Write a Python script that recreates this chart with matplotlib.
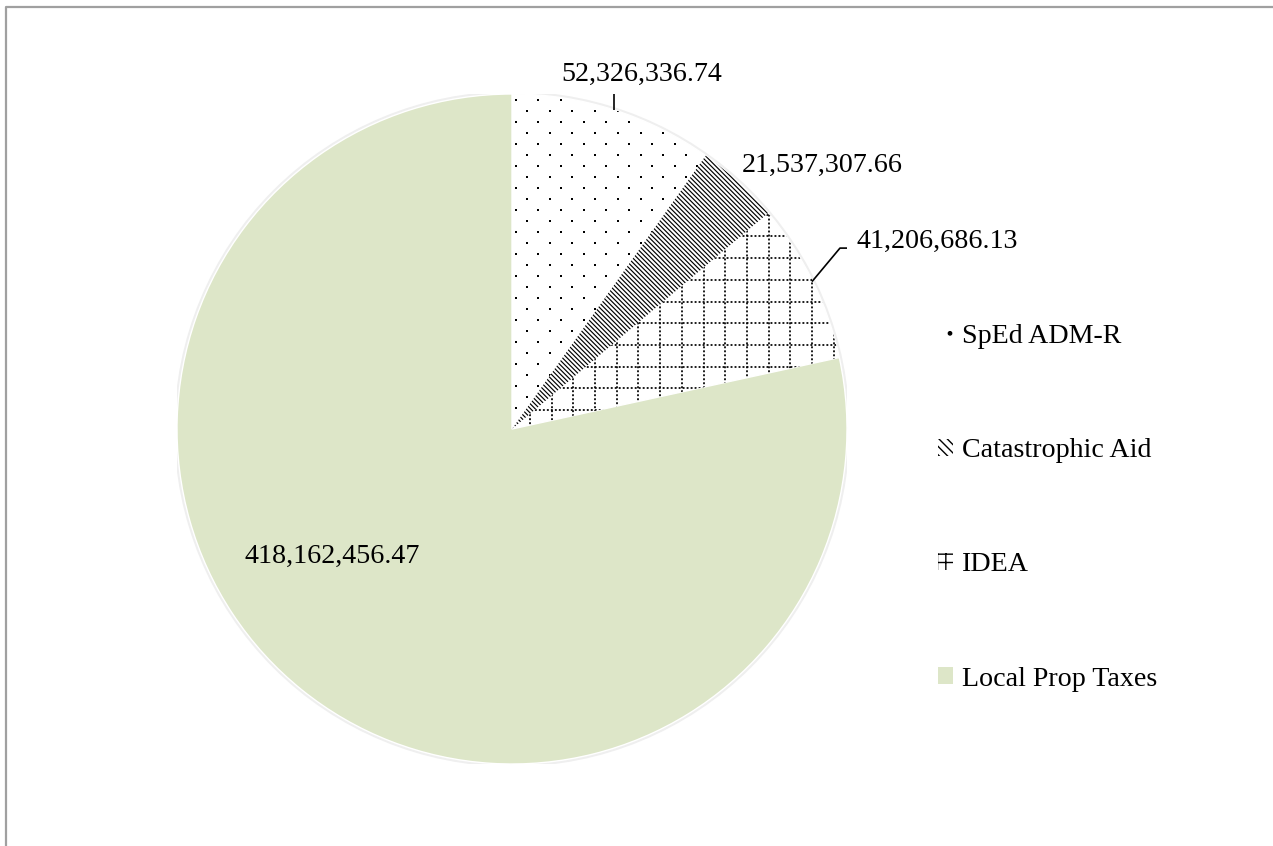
import numpy as np
import matplotlib
matplotlib.use('Agg')
import matplotlib.pyplot as plt
import matplotlib.patches as mpatches
from matplotlib.collections import LineCollection
from matplotlib.lines import Line2D

# ----------------------------------------------------------------------------------------------------------------------
#  DATA
# ----------------------------------------------------------------------------------------------------------------------
categories = ['SpEd ADM-R', 'Catastrophic Aid', 'IDEA', 'Local Prop Taxes']
amounts    = [52326336.74, 21537307.66, 41206686.13, 418162456.47]

# label anchor positions (data units, pie radius = 1), text baseline centred
label_xy   = [(0.388, 1.040), (0.927, 0.768), (1.270, 0.540), (-0.537, -0.401)]

# ----------------------------------------------------------------------------------------------------------------------
#  STYLE
# ----------------------------------------------------------------------------------------------------------------------
plt.rcParams['font.family'] = ['Liberation Serif', 'DejaVu Serif']
green      = '#DDE6C8'
font_size  = 20.2
W, H       = 1273, 846
R_px       = 335
cx, cy     = 512, 846 - 429

fig = plt.figure(figsize=(W / 100, H / 100), dpi=100)
ax  = fig.add_axes([(cx - R_px) / W, (cy - R_px) / H, 2 * R_px / W, 2 * R_px / H])

wedges, _ = ax.pie(amounts, startangle=90, counterclock=False, radius=1,
                   colors=['white', 'white', 'white', green],
                   wedgeprops=dict(edgecolor='white', linewidth=1))
ax.set_xlim(-1, 1)
ax.set_ylim(-1, 1)
ax.axis('off')

# faint rim around the pie
ax.add_patch(mpatches.Circle((0, 0), 1.004, facecolor='none', edgecolor='#efefef', lw=2, zorder=0))

# SpEd ADM-R : sparse staggered dots
dot_x, dot_y = [], []
row_step, col_step = 11 / R_px, 22.7 / R_px
for k, y in enumerate(np.arange(0.982, -0.1, -row_step)):
    off = 0 if k % 2 == 0 else col_step / 2
    xs = np.arange(0.011 + off, 1.0, col_step)
    dot_x.extend(xs)
    dot_y.extend([y] * len(xs))
dots = ax.scatter(dot_x, dot_y, s=4.5, marker='s', color='black', linewidths=0, zorder=3)
dots.set_clip_path(wedges[0])

# Catastrophic Aid : dense downward diagonal
diag_step = 4.6 / R_px
segs = [[(-1, c + 1), (2, c - 2)] for c in np.arange(-0.2, 1.6, diag_step)]
diag = LineCollection(segs, colors='black', linewidths=0.85, zorder=3)
ax.add_collection(diag)
diag.set_clip_path(wedges[1])

# IDEA : dotted grid
grid_step = 21.7 / R_px
grid_segs = [[(x, -0.2), (x, 1.0)] for x in np.arange(0.1185 - grid_step, 1.01, grid_step)]
grid_segs += [[(-0.1, y), (1.01, y)] for y in np.arange(0.0567 - grid_step, 1.0, grid_step)]
grid = LineCollection(grid_segs, colors='black', linewidths=1.25, linestyles=[(0, (1.1, 1.2))], zorder=3)
ax.add_collection(grid)
grid.set_clip_path(wedges[2])

# data labels
for (lx, ly), val in zip(label_xy, amounts):
    ax.text(lx, ly, f'{val:,.2f}', ha='center', va='baseline', fontsize=font_size, color='black')

# leader lines to mid-angle of slices 1 and 3
def mid_point(w):
    ang = np.deg2rad((w.theta1 + w.theta2) / 2)
    return np.cos(ang), np.sin(ang)

mx, my = mid_point(wedges[0])
ax.plot([mx, mx], [my, 1.020], color='black', lw=1.2, solid_capstyle='butt')
mx, my = mid_point(wedges[2])
ax.plot([mx, 0.979, 1.006], [my, 0.540, 0.540], color='black', lw=1.2)

# legend
handles = [mpatches.Patch(facecolor='white', hatch='.'),
           mpatches.Patch(facecolor='white', hatch='\\\\\\\\'),
           mpatches.Patch(facecolor='white', hatch='++'),
           mpatches.Patch(facecolor=green)]
fig.legend(handles, categories, loc='upper left', bbox_to_anchor=(938 / W, 1 - 324 / H),
           frameon=False, fontsize=font_size, handlelength=0.55, handleheight=0.55,
           handletextpad=0.3, labelspacing=3.18, borderpad=0, borderaxespad=0)

# page border
fig.add_artist(Line2D([6 / W, 6 / W, 1], [0, 1 - 7 / H, 1 - 7 / H], transform=fig.transFigure,
                      color='#A0A0A0', lw=1.6))

fig.savefig('out.png', dpi=100, facecolor='white')
